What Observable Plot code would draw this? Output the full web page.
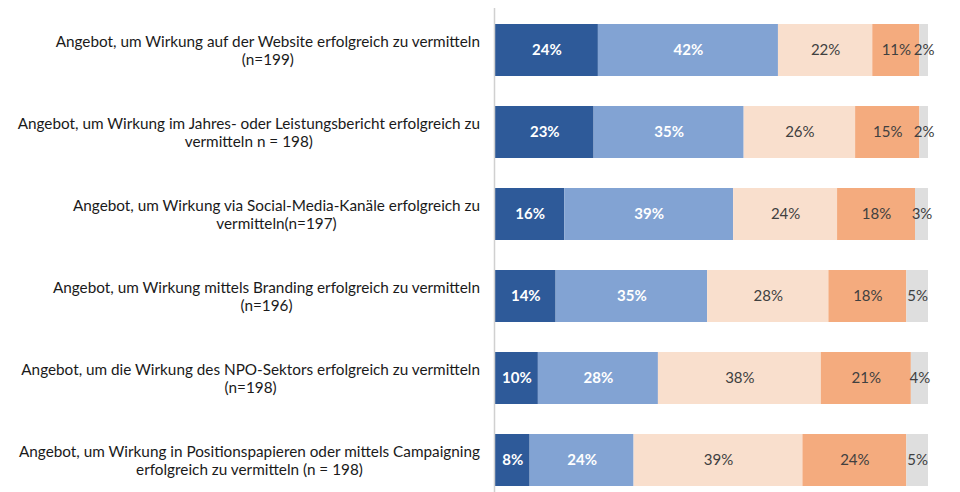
<!DOCTYPE html>
<html>
<head>
<meta charset="utf-8">
<script src="https://cdn.jsdelivr.net/npm/d3@7"></script>
<script src="https://cdn.jsdelivr.net/npm/@observablehq/plot@0.6"></script>
<style>
  html, body { margin: 0; padding: 0; background: #fff; }
  #chart svg { display: block; }
</style>
</head>
<body>
<div id="chart"></div>
<script>
const categories = [
  "Angebot, um Wirkung auf der Website erfolgreich zu vermitteln\n(n=199)",
  "Angebot, um Wirkung im Jahres- oder Leistungsbericht erfolgreich zu\nvermitteln n = 198)",
  "Angebot, um Wirkung via Social-Media-Kanäle erfolgreich zu\nvermitteln(n=197)",
  "Angebot, um Wirkung mittels Branding erfolgreich zu vermitteln\n(n=196)",
  "Angebot, um die Wirkung des NPO-Sektors erfolgreich zu vermitteln\n(n=198)",
  "Angebot, um Wirkung in Positionspapieren oder mittels Campaigning\nerfolgreich zu vermitteln (n = 198)"
];
const seriesNames = ["Stufe 1", "Stufe 2", "Stufe 3", "Stufe 4", "Stufe 5"];
const stufe1 = [24, 23, 16, 14, 10, 8];
const stufe2 = [42, 35, 39, 35, 28, 24];
const stufe3 = [22, 26, 24, 28, 38, 39];
const stufe4 = [11, 15, 18, 18, 21, 24];
const stufe5 = [2, 2, 3, 5, 4, 5];
const seriesValues = [stufe1, stufe2, stufe3, stufe4, stufe5];
const colors = ["#2E5A99", "#82A3D3", "#F9DFCD", "#F4AB7E", "#DEDEDE"];
const boldSeries = ["Stufe 1", "Stufe 2"];

const rows = [];
categories.forEach((cat, i) => {
  seriesNames.forEach((s, j) => {
    rows.push({cat, series: s, value: seriesValues[j][i]});
  });
});

const stackOpts = {x: "value", y: "cat", z: "series", order: seriesNames, offset: "normalize"};
const font = "Lato, 'Open Sans', sans-serif";

const chart = Plot.plot({
  width: 960,
  height: 492,
  marginLeft: 495,
  marginRight: 32,
  marginTop: 8,
  marginBottom: 0,
  style: {fontFamily: font, background: "#fff"},
  x: {domain: [0, 1], axis: null},
  y: {domain: categories, range: [9, 501], paddingInner: 0.36, paddingOuter: 0.18, axis: null},
  color: {domain: seriesNames, range: colors},
  marks: [
    Plot.barX(rows, Plot.stackX({...stackOpts, fill: "series"})),
    Plot.text(rows, Plot.stackX({
      ...stackOpts,
      text: d => boldSeries.includes(d.series) ? d.value + "%" : "",
      fill: "white", fontWeight: "bold", fontSize: 15
    })),
    Plot.text(rows, Plot.stackX({
      ...stackOpts,
      text: d => boldSeries.includes(d.series) ? "" : d.value + "%",
      fill: "#404040", fontSize: 15
    })),
    Plot.ruleX([0], {stroke: "#d0d0d0", strokeWidth: 1.5, dx: -1}),
    Plot.text(categories, {
      x: () => 0, y: d => d, text: d => d,
      textAnchor: "middle", lineAnchor: "middle", lineHeight: 1.12,
      fontSize: 15.3, fill: "#1a1a1a", dx: -240, className: "catlabels"
    })
  ]
});

document.getElementById("chart").appendChild(chart);

// right-align each (centered) label block so it ends just left of the axis
const svgRect = chart.getBoundingClientRect();
chart.querySelectorAll(".catlabels text").forEach(el => {
  const r = el.getBoundingClientRect();
  const right = r.right - svgRect.left;
  const shift = 480 - right;
  el.setAttribute("transform", (el.getAttribute("transform") || "") + ` translate(${shift},0)`);
});
</script>
</body>
</html>
